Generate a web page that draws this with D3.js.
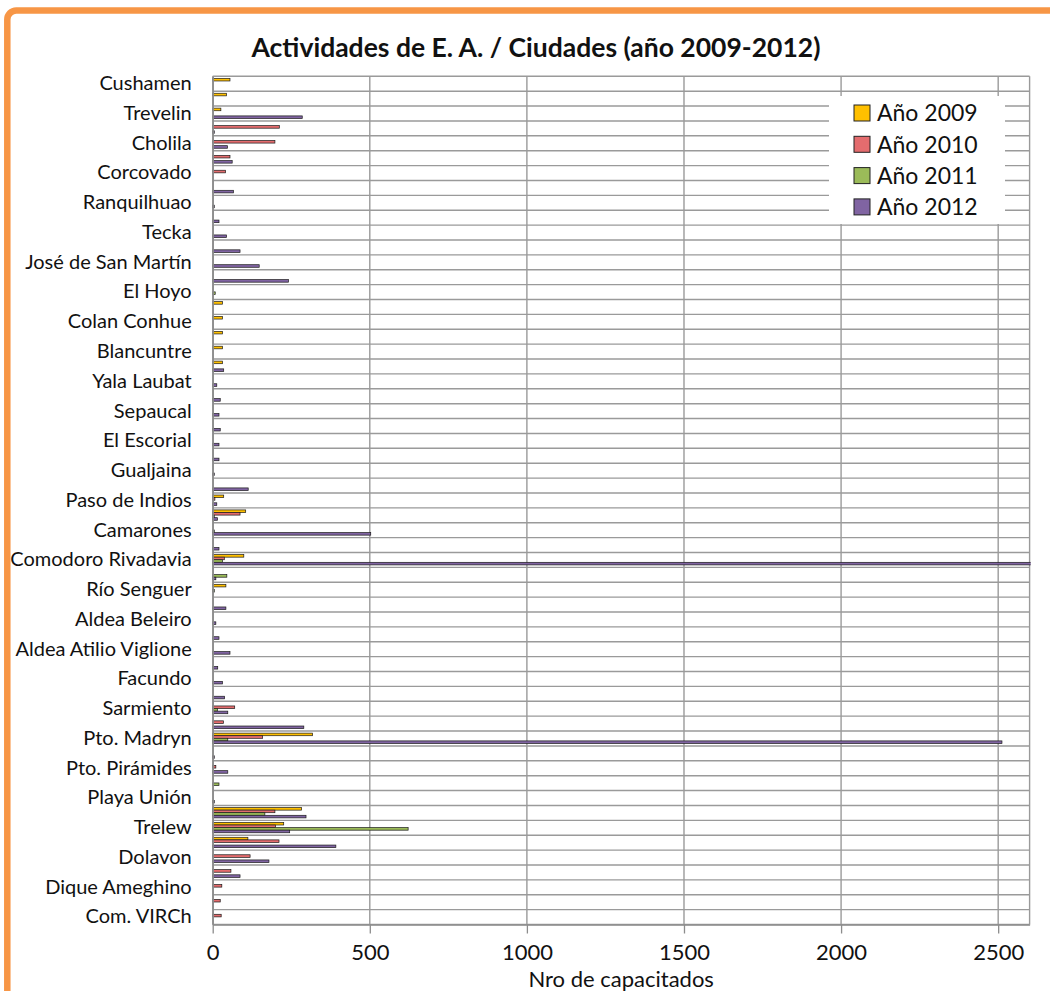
<!DOCTYPE html>
<html>
<head>
<meta charset="utf-8">
<script src="https://cdn.jsdelivr.net/npm/d3@7"></script>
<style>
  html, body { margin: 0; padding: 0; background: #fff; }
  svg, svg text { font-family: Lato, "Open Sans", sans-serif; }
  .cat-axis text { font-size: 20px; fill: #111; }
  .val-axis text { font-size: 22px; fill: #111; }
</style>
</head>
<body>
<div id="chart"></div>
<script>
// rows of the category axis, top to bottom; Excel only printed every other label
const categories = [
  "Cushamen", null, "Trevelin", null, "Cholila", null, "Corcovado", null,
  "Ranquilhuao", null, "Tecka", null, "José de San Martín", null, "El Hoyo", null,
  "Colan Conhue", null, "Blancuntre", null, "Yala Laubat", null, "Sepaucal", null,
  "El Escorial", null, "Gualjaina", null, "Paso de Indios", null, "Camarones", null,
  "Comodoro Rivadavia", null, "Río Senguer", null, "Aldea Beleiro", null,
  "Aldea Atilio Viglione", null, "Facundo", null, "Sarmiento", null, "Pto. Madryn", null,
  "Pto. Pirámides", null, "Playa Unión", null, "Trelew", null, "Dolavon", null,
  "Dique Ameghino", null, "Com. VIRCh"
];
const series = ["Año 2009", "Año 2010", "Año 2011", "Año 2012"];
const values2009 = [55, 44, 26, 0, 0, 0, 0, 0, 0, 0, 0, 0, 0, 0, 0, 31, 31, 31, 31, 31,
  0, 0, 0, 0, 0, 0, 0, 0, 35, 105, 0, 0, 99, 0, 42, 0, 0, 0, 0, 0, 0, 0, 0, 0, 318,
  0, 0, 0, 0, 283, 226, 112, 0, 0, 0, 0, 0];
const values2010 = [0, 0, 0, 212, 198, 55, 41, 0, 0, 0, 0, 0, 0, 0, 0, 0, 0, 0, 0, 0,
  0, 0, 0, 0, 0, 0, 0, 0, 7, 87, 0, 0, 37, 0, 0, 0, 0, 0, 0, 0, 0, 0, 70, 34, 159,
  0, 10, 0, 0, 198, 200, 211, 119, 58, 29, 24, 27];
const values2011 = [0, 0, 0, 0, 0, 0, 0, 0, 0, 0, 0, 0, 0, 0, 8, 0, 0, 0, 0, 0,
  0, 0, 0, 0, 0, 0, 0, 0, 0, 5, 5, 0, 31, 45, 5, 0, 0, 0, 0, 0, 0, 0, 15, 0, 48,
  0, 0, 20, 0, 166, 622, 0, 0, 0, 0, 0, 0];
const values2012 = [0, 0, 285, 5, 47, 62, 0, 66, 5, 20, 44, 87, 148, 241, 0, 0, 0, 0, 0, 35,
  13, 24, 20, 24, 20, 20, 5, 113, 13, 15, 503, 20, 2750, 10, 0, 42, 10, 20, 55, 16, 31, 38, 48, 290, 2512,
  5, 48, 0, 5, 297, 245, 392, 179, 87, 0, 0, 0];
const xTicks = [0, 500, 1000, 1500, 2000, 2500];
const xMax = 2600;
const colors = ["#FFC000", "#E46C6E", "#9BBB59", "#8064A2"];

const width = 1050;
const height = 991;
const plot = { left: 212.7, top: 76.3, right: 1029.6, bottom: 924.5 };

let rows;
let svg;
let yScale;
let ySub;
let xScale;

function createChart() {
  organizeData();
  createSvg();
  createScales();
  createGrid();
  createBars();
  createAxes();
  createLegend();
  createTitles();
}

function organizeData() {
  const all = [values2009, values2010, values2011, values2012];
  rows = categories.map((c, i) => ({
    index: i,
    label: c,
    values: series.map((s, j) => ({ key: s, value: all[j][i] })),
  }));
}

function createSvg() {
  svg = d3.select("#chart").append("svg").attr("width", width).attr("height", height);

  // orange chart-area frame, only its left and top edges are inside the picture
  svg.append("rect")
    .attr("x", 7.3).attr("y", 10.5)
    .attr("width", 1200).attr("height", 1200)
    .attr("rx", 9)
    .attr("fill", "#fff")
    .attr("stroke", "#F79646")
    .attr("stroke-width", 6.5);
}

function createScales() {
  yScale = d3.scaleBand()
    .domain(rows.map((d) => d.index))
    .range([plot.top, plot.bottom])
    .padding(0);

  const bw = yScale.bandwidth();
  ySub = d3.scaleBand().domain(series).range([bw * 0.14, bw * 0.835]);

  xScale = d3.scaleLinear().domain([0, xMax]).range([plot.left, plot.right]);
}

function createGrid() {
  const grid = svg.append("g").attr("stroke", "#9a9a9a").attr("stroke-width", 1.4);

  grid.selectAll(".hline")
    .data(rows.map((d) => d.index).concat([rows.length]))
    .enter()
    .append("line")
    .attr("x1", plot.left).attr("x2", plot.right)
    .attr("y1", (d) => (d < rows.length ? yScale(d) : plot.bottom))
    .attr("y2", (d) => (d < rows.length ? yScale(d) : plot.bottom));

  grid.selectAll(".vline")
    .data(xTicks.concat([xMax]))
    .enter()
    .append("line")
    .attr("x1", (d) => xScale(d)).attr("x2", (d) => xScale(d))
    .attr("y1", plot.top).attr("y2", plot.bottom);
}

function createBars() {
  svg.append("clipPath").attr("id", "plot-clip")
    .append("rect")
    .attr("x", plot.left).attr("y", plot.top)
    .attr("width", plot.right - plot.left + 1)
    .attr("height", plot.bottom - plot.top);

  svg.append("g")
    .attr("clip-path", "url(#plot-clip)")
    .selectAll("g")
    .data(rows)
    .enter()
    .append("g")
    .attr("transform", (d) => "translate(0," + yScale(d.index) + ")")
    .selectAll("rect")
    .data((d) => d.values.filter((v) => v.value > 0))
    .enter()
    .append("rect")
    .attr("x", xScale(0))
    .attr("y", (d) => ySub(d.key))
    .attr("width", (d) => xScale(d.value) - xScale(0))
    .attr("height", ySub.bandwidth())
    .attr("fill", (d) => colors[series.indexOf(d.key)])
    .attr("stroke", "#1a1a1a")
    .attr("stroke-width", 0.7);
}

function createAxes() {
  svg.append("g")
    .classed("cat-axis", true)
    .attr("transform", "translate(" + plot.left + ",0)")
    .call(
      d3.axisLeft(yScale)
        .tickSize(0)
        .tickPadding(21)
        .tickFormat((i) => categories[i] || "")
    )
    .attr("font-family", null)
    .call((g) => g.select(".domain").attr("stroke", "#8c8c8c").attr("stroke-width", 1.5));

  svg.append("g")
    .classed("val-axis", true)
    .attr("transform", "translate(0," + plot.bottom + ")")
    .call(
      d3.axisBottom(xScale)
        .tickValues(xTicks)
        .tickFormat(d3.format("d"))
        .tickSize(9)
        .tickPadding(11)
        .tickSizeOuter(0)
    )
    .attr("font-family", null)
    .call((g) => g.select(".domain").attr("stroke", "#8c8c8c").attr("stroke-width", 1.5))
    .call((g) => g.selectAll(".tick line").attr("stroke", "#8c8c8c").attr("stroke-width", 1.3));
}

function createLegend() {
  const legend = svg.append("g").attr("transform", "translate(829,96)");

  legend.append("rect")
    .attr("width", 176).attr("height", 128)
    .attr("fill", "#fff");

  const items = legend.selectAll(".legend")
    .data(series)
    .enter()
    .append("g")
    .classed("legend", true)
    .attr("transform", (d, i) => "translate(25," + (9 + i * 31.3) + ")");

  items.append("rect")
    .attr("width", 16).attr("height", 16)
    .attr("fill", (d, i) => colors[i])
    .attr("stroke", "#222")
    .attr("stroke-width", 1);

  items.append("text")
    .attr("x", 23)
    .attr("y", 8)
    .attr("dy", "0.36em")
    .style("font-size", "23px")
    .attr("fill", "#111")
    .text((d) => d);
}

function createTitles() {
  svg.append("text")
    .attr("x", 536).attr("y", 57)
    .attr("text-anchor", "middle")
    .style("font-size", "26.5px")
    .style("font-weight", "bold")
    .attr("fill", "#111")
    .text("Actividades de E. A. / Ciudades (año 2009-2012)");

  svg.append("text")
    .attr("x", (plot.left + plot.right) / 2).attr("y", 987)
    .attr("text-anchor", "middle")
    .style("font-size", "22px")
    .attr("fill", "#111")
    .text("Nro de capacitados");
}

createChart();
</script>
</body>
</html>
